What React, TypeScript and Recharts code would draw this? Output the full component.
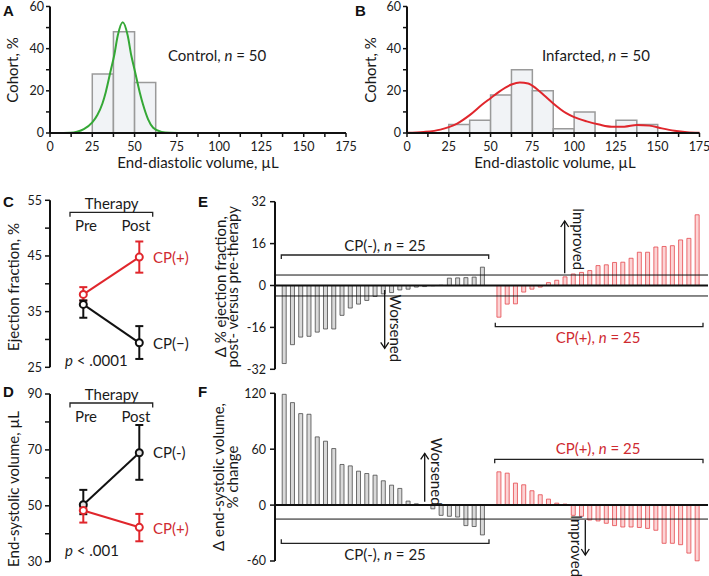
import React from "react";
import {
  Bar,
  BarChart,
  Cell,
  ComposedChart,
  ErrorBar,
  Line,
  LineChart,
  ReferenceArea,
  ReferenceLine,
  XAxis,
  YAxis,
} from "recharts";

const FONT = "Lato, 'Open Sans', sans-serif";
const INK = "#1a1a1a";
const RED = "#e0262c";
const RED_TEXT = "#cf2a30";
const GREEN = "#35a836";

// A / B: end-diastolic volume histograms
const volumeTicks = [0, 12.5, 25, 37.5, 50, 62.5, 75, 87.5, 100, 112.5, 125, 137.5, 150, 162.5, 175];
const cohortTicks = [0, 10, 20, 30, 40, 50, 60];
const BIN = 12.5;
const binStartA = [25, 37.5, 50];
const cohortA = [28, 48, 24];
const binStartB = [25, 37.5, 50, 62.5, 75, 87.5, 100, 112.5, 125, 137.5];
const cohortB = [4, 6, 18, 30, 20, 2, 10, 0, 6, 4];
const fitXA = [8, 12, 16, 20, 25, 28, 31, 33, 36, 38, 40, 43, 46, 48, 50, 53, 55, 58, 61, 66, 71, 76];
const fitYA = [0, 0.1, 0.6, 1.8, 5, 8.5, 14, 19.5, 30, 37, 46, 52.5, 46, 37, 30, 19.5, 13.5, 6.5, 2.5, 0.5, 0.1, 0];
const fitXB = [0, 10, 20, 25, 30, 37.5, 45, 50, 55, 62.5, 67.5, 72.5, 77.5, 82.5, 87.5, 95, 100, 107.5, 115, 122.5, 130, 137.5, 145, 152.5, 160, 167.5, 175];
const fitYB = [0.1, 0.5, 1.6, 2.8, 4.5, 8.5, 13.5, 16.5, 19.5, 23, 24, 23.5, 21, 17.5, 14, 9.5, 7.5, 5.5, 4, 3, 3, 3.8, 3.5, 2.2, 1.1, 0.4, 0.1];

// C / D: pre vs post therapy
const phases = ["Pre", "Post"];
const efPos = [38.1, 44.8];
const efPosLo = [37.0, 42.0];
const efPosHi = [39.4, 47.6];
const efNeg = [36.3, 29.4];
const efNegLo = [33.9, 26.5];
const efNegHi = [37.0, 32.4];
const esvNeg = [50.4, 69.0];
const esvNegLo = [47.0, 59.3];
const esvNegHi = [55.7, 78.9];
const esvPos = [48.3, 42.3];
const esvPosLo = [44.0, 37.3];
const esvPosHi = [49.5, 47.1];

// E / F: per-animal change, CP(-) then CP(+)
const efChangeNeg = [-29.8, -22.6, -19.7, -19.4, -17.8, -16.6, -16.6, -11.4, -8.6, -7.1, -5.7, -4.2, -3.2, -2.7, -1.7, -1.4, -0.6, -0.4, -0.1, 0.1, 2.8, 2.9, 3.0, 3.2, 7.0];
const efChangePos = [-12.1, -7.1, -7.0, -2.5, -1.4, -0.6, 1.1, 2.0, 3.3, 4.4, 5.0, 5.7, 7.6, 7.9, 8.8, 8.9, 10.4, 12.7, 12.7, 14.7, 14.9, 15.2, 17.4, 18.0, 27.0];
const esvChangeNeg = [118.9, 110, 98.2, 97.5, 73.2, 68.6, 60.7, 43.6, 42.1, 36.4, 33.9, 32.1, 26.1, 21.4, 17.9, 4.3, 1.4, 0.3, -4, -11, -12, -12.8, -22, -23, -32];
const esvChangePos = [35.7, 34.3, 23.6, 21.8, 15.4, 11.1, 6.4, 2.1, 1.1, -11, -12, -16, -17, -19.5, -22, -23.5, -23.5, -24, -25, -27, -41, -41, -42.5, -51.5, -59.8];

const axisLine = { stroke: "#111", strokeWidth: 2 };
const tickLine = { stroke: "#111", strokeWidth: 1.5 };
const tickStyle = { fontSize: 12.5, fill: INK, fontFamily: FONT };

function Histogram({ starts, values, fitX, fitY, color, width, axisWidth, marginRight }: any) {
  const fit = fitX.map((x: number, i: number) => ({ x, y: fitY[i] }));
  return (
    <ComposedChart width={width} height={175} data={fit} margin={{ top: 6.5, right: marginRight, bottom: 2, left: 0 }}>
      <XAxis
        type="number"
        dataKey="x"
        domain={[0, 175]}
        ticks={volumeTicks}
        interval={0}
        tickFormatter={(v: number) => (v % 25 === 0 ? String(v) : "")}
        height={40}
        tickSize={4}
        tickMargin={5}
        axisLine={axisLine}
        tickLine={tickLine}
        tick={tickStyle}
      />
      <YAxis
        type="number"
        domain={[0, 60]}
        ticks={cohortTicks}
        interval={0}
        tickFormatter={(v: number) => (v % 20 === 0 ? String(v) : "")}
        width={axisWidth}
        tickSize={4}
        tickMargin={2}
        axisLine={axisLine}
        tickLine={tickLine}
        tick={tickStyle}
      />
      {starts.map((s: number, i: number) =>
        values[i] > 0 ? (
          <ReferenceArea
            key={s}
            x1={s}
            x2={s + BIN}
            y1={0}
            y2={values[i]}
            fill="#f1f3f6"
            fillOpacity={1}
            stroke="#9a9a9a"
            strokeWidth={1.5}
          />
        ) : null
      )}
      <Line type="monotone" dataKey="y" stroke={color} strokeWidth={2} dot={false} isAnimationActive={false} />
    </ComposedChart>
  );
}

function PrePost({ rows, domain, ticks, labelStep, height, top, bottom, redFirst, negFill }: any) {
  const red = (
    <Line
      key="pos"
      dataKey="pos"
      stroke={RED}
      strokeWidth={2}
      dot={{ r: 3.5, fill: "#fff", stroke: RED, strokeWidth: 2 }}
      activeDot={false}
      isAnimationActive={false}
    >
      <ErrorBar dataKey="posErr" width={4} strokeWidth={2} stroke={RED} direction="y" />
    </Line>
  );
  const black = (
    <Line
      key="neg"
      dataKey="neg"
      stroke="#111"
      strokeWidth={2}
      dot={{ r: 3.5, fill: negFill, stroke: "#111", strokeWidth: 2 }}
      activeDot={false}
      isAnimationActive={false}
    >
      <ErrorBar dataKey="negErr" width={4} strokeWidth={2} stroke="#111" direction="y" />
    </Line>
  );
  return (
    <LineChart width={170} height={height} data={rows} margin={{ top, right: 0, bottom, left: 0 }}>
      <XAxis dataKey="phase" hide scale="point" padding={{ left: 33.3, right: 40.7 }} />
      <YAxis
        type="number"
        domain={domain}
        ticks={ticks}
        interval={0}
        tickFormatter={(v: number) => ((v - domain[0]) % labelStep === 0 ? String(v) : "")}
        width={40}
        tickSize={5}
        tickMargin={3}
        axisLine={axisLine}
        tickLine={tickLine}
        tick={tickStyle}
      />
      {redFirst ? [red, black] : [black, red]}
    </LineChart>
  );
}

function Waterfall({ neg, pos, domain, ticks, refs, height, top, bottom }: any) {
  const rows = [
    ...neg.map((v: number, i: number) => ({ id: `n${i}`, v, group: "neg" })),
    { id: "gap", v: null, group: "gap" },
    ...pos.map((v: number, i: number) => ({ id: `p${i}`, v, group: "pos" })),
  ];
  return (
    <BarChart width={469} height={height} data={rows} margin={{ top, right: 1, bottom, left: 0 }} barSize={4}>
      <XAxis dataKey="id" hide padding={{ left: 5.2, right: 6.6 }} />
      <YAxis
        type="number"
        domain={domain}
        ticks={ticks}
        interval={0}
        width={35}
        tickSize={5}
        tickMargin={4}
        axisLine={axisLine}
        tickLine={tickLine}
        tick={tickStyle}
      />
      <Bar dataKey="v" isAnimationActive={false} strokeWidth={0.8}>
        {rows.map((r) => (
          <Cell
            key={r.id}
            fill={r.group === "pos" ? "#fcd4d5" : "#d9d9d9"}
            stroke={r.group === "pos" ? "#e4484d" : "#4a4a4a"}
          />
        ))}
      </Bar>
      {refs.map((y: number) => (
        <ReferenceLine key={y} y={y} stroke="#111" strokeWidth={y === 0 ? 2 : 1} />
      ))}
    </BarChart>
  );
}

function T({ x, y, children, anchor = "middle", rotate = 0, size = 15, fill = INK }: any) {
  return (
    <text
      x={x}
      y={y}
      textAnchor={anchor}
      dominantBaseline="central"
      fontSize={size}
      fill={fill}
      fontFamily={FONT}
      transform={rotate ? `rotate(${rotate} ${x} ${y})` : undefined}
    >
      {children}
    </text>
  );
}

function Letter({ x, y, children }: any) {
  return (
    <text x={x} y={y} fontSize={15} fontWeight="bold" fill="#111" fontFamily="'Liberation Sans', Arial, sans-serif">
      {children}
    </text>
  );
}

function Bracket({ d }: { d: string }) {
  return <path d={d} fill="none" stroke="#222" strokeWidth={1.3} />;
}

function Arrow({ x, from, to }: { x: number; from: number; to: number }) {
  const dir = to < from ? 1 : -1;
  return (
    <g stroke="#111" strokeWidth={1.3} fill="none">
      <line x1={x} y1={from} x2={x} y2={to} />
      <path d={`M${x - 4} ${to + 6 * dir} L${x} ${to} L${x + 4} ${to + 6 * dir}`} />
    </g>
  );
}

function Therapy({ y }: { y: number }) {
  return (
    <g>
      <T x={111.7} y={y}>Therapy</T>
      <Bracket d={`M70 ${y + 13.5} V${y + 9} H152.7 V${y + 13.5}`} />
      <T x={86} y={y + 21.5}>Pre</T>
      <T x={136} y={y + 21.5}>Post</T>
    </g>
  );
}

export default function App() {
  const efRows = phases.map((phase, i) => ({
    phase,
    pos: efPos[i],
    posErr: [efPos[i] - efPosLo[i], efPosHi[i] - efPos[i]],
    neg: efNeg[i],
    negErr: [efNeg[i] - efNegLo[i], efNegHi[i] - efNeg[i]],
  }));
  const esvRows = phases.map((phase, i) => ({
    phase,
    pos: esvPos[i],
    posErr: [esvPos[i] - esvPosLo[i], esvPosHi[i] - esvPos[i]],
    neg: esvNeg[i],
    negErr: [esvNeg[i] - esvNegLo[i], esvNegHi[i] - esvNeg[i]],
  }));

  return (
    <div style={{ position: "absolute", left: 0, top: 0, width: 709, height: 576, background: "#fff", fontFamily: FONT }}>
      <div style={{ position: "absolute", left: 0, top: 0 }}>
        <Histogram starts={binStartA} values={cohortA} fitX={fitXA} fitY={fitYA} color={GREEN} width={360} axisWidth={50} marginRight={14} />
      </div>
      <div style={{ position: "absolute", left: 367, top: 0 }}>
        <Histogram starts={binStartB} values={cohortB} fitX={fitXB} fitY={fitYB} color={RED} width={342} axisWidth={40} marginRight={9.5} />
      </div>
      <div style={{ position: "absolute", left: 10, top: 188 }}>
        <PrePost rows={efRows} domain={[25, 55]} ticks={[25, 30, 35, 40, 45, 50, 55]} labelStep={10} height={190} top={12.3} bottom={10.7} redFirst negFill="#fff" />
      </div>
      <div style={{ position: "absolute", left: 10, top: 383 }}>
        <PrePost rows={esvRows} domain={[30, 90]} ticks={[30, 40, 50, 60, 70, 80, 90]} labelStep={20} height={188} top={11} bottom={9.3} redFirst={false} negFill="#e2e2e2" />
      </div>
      <div style={{ position: "absolute", left: 240, top: 190 }}>
        <Waterfall neg={efChangeNeg} pos={efChangePos} domain={[-32, 32]} ticks={[-32, -16, 0, 16, 32]} refs={[4, -4, 0]} height={190} top={11.7} bottom={10.7} />
      </div>
      <div style={{ position: "absolute", left: 240, top: 383 }}>
        <Waterfall neg={esvChangeNeg} pos={esvChangePos} domain={[-60, 120]} ticks={[-60, 0, 60, 120]} refs={[-15, 0]} height={190} top={10.3} bottom={12} />
      </div>

      <svg width={709} height={576} style={{ position: "absolute", left: 0, top: 0, pointerEvents: "none" }}>
        <Letter x={3} y={15.5}>A</Letter>
        <Letter x={355} y={15.5}>B</Letter>
        <Letter x={3} y={206.7}>C</Letter>
        <Letter x={3} y={396.7}>D</Letter>
        <Letter x={198} y={206.7}>E</Letter>
        <Letter x={198} y={396.7}>F</Letter>

        <T x={12} y={70} rotate={-90}>Cohort, %</T>
        <T x={198} y={162}>End-diastolic volume, µL</T>
        <T x={168} y={55} anchor="start">
          Control, <tspan fontStyle="italic">n</tspan> = 50
        </T>
        <T x={370} y={70} rotate={-90}>Cohort, %</T>
        <T x={555} y={162}>End-diastolic volume, µL</T>
        <T x={542} y={55} anchor="start">
          Infarcted, <tspan fontStyle="italic">n</tspan> = 50
        </T>

        <T x={13} y={287} rotate={-90}>Ejection fraction, %</T>
        <Therapy y={203.3} />
        <T x={153} y={256.7} anchor="start" fill={RED_TEXT}>CP(+)</T>
        <T x={153} y={342.7} anchor="start">CP(−)</T>
        <T x={65} y={360} anchor="start">
          <tspan fontStyle="italic">p</tspan> &lt; .0001
        </T>

        <T x={13} y={489} rotate={-90}>End-systolic volume, µL</T>
        <Therapy y={394} />
        <T x={153} y={451.7} anchor="start">CP(-)</T>
        <T x={153} y={528.3} anchor="start" fill={RED_TEXT}>CP(+)</T>
        <T x={65} y={550} anchor="start">
          <tspan fontStyle="italic">p</tspan> &lt; .001
        </T>

        <T x={220} y={286.7} rotate={-90}>Δ % ejection fraction,</T>
        <T x={232} y={286.7} rotate={-90}>post- versus pre-therapy</T>
        <T x={385} y={245}>
          CP(-), <tspan fontStyle="italic">n</tspan> = 25
        </T>
        <Bracket d="M281.3 259 V255 H488.7 V259" />
        <T x={598} y={336.7} fill={RED_TEXT}>
          CP(+), <tspan fontStyle="italic">n</tspan> = 25
        </T>
        <Bracket d="M495.3 322.7 V326.7 H703 V322.7" />
        <Arrow x={384.7} from={290} to={348.3} />
        <T x={396} y={328.3} rotate={90}>Worsened</T>
        <Arrow x={564.7} from={273.3} to={221} />
        <T x={579} y={239} rotate={90}>Improved</T>

        <T x={218} y={477} rotate={-90}>Δ end-systolic volume,</T>
        <T x={231.5} y={477} rotate={-90}>% change</T>
        <T x={385} y={554.3}>
          CP(-), <tspan fontStyle="italic">n</tspan> = 25
        </T>
        <Bracket d="M281.3 539.3 V543.3 H489 V539.3" />
        <T x={598} y={448.3} fill={RED_TEXT}>
          CP(+), <tspan fontStyle="italic">n</tspan> = 25
        </T>
        <Bracket d="M494.7 463.3 V459.3 H703 V463.3" />
        <Arrow x={424.7} from={501.7} to={453.3} />
        <T x={437} y={471.7} rotate={90}>Worsened</T>
        <Arrow x={585.3} from={520} to={555} />
        <T x={577} y={546} rotate={90}>Improved</T>
      </svg>
    </div>
  );
}
